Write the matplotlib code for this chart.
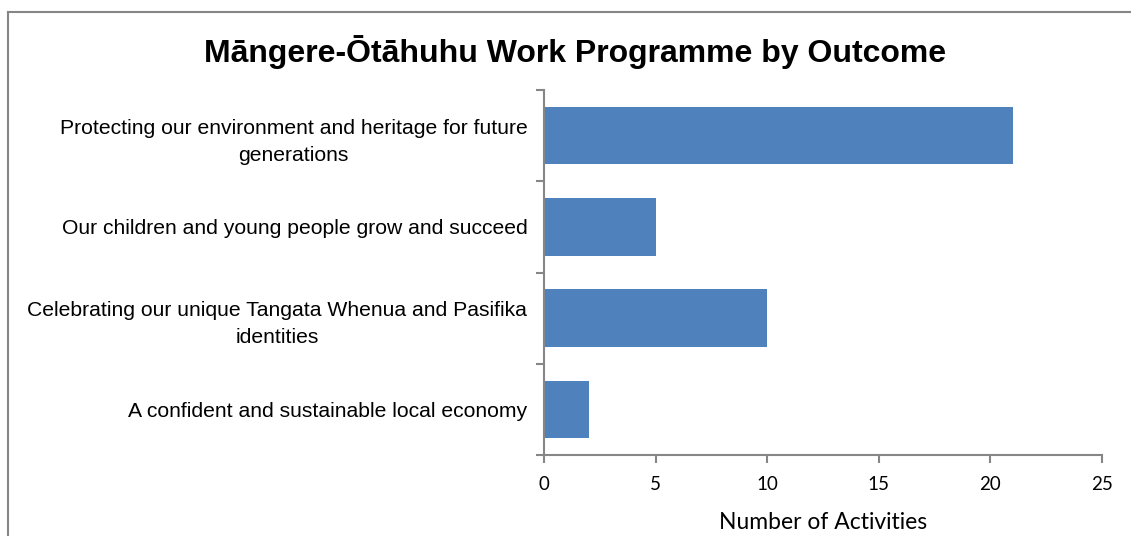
import matplotlib
matplotlib.use("Agg")
import matplotlib.pyplot as plt
from matplotlib.ticker import MultipleLocator, FixedLocator
from matplotlib.lines import Line2D

title = "Māngere-Ōtāhuhu Work Programme by Outcome"
categories = [
    "A confident and sustainable local economy",
    "Celebrating our unique Tangata Whenua and Pasifika\nidentities",
    "Our children and young people grow and succeed",
    "Protecting our environment and heritage for future\ngenerations",
]
values = [2, 10, 5, 21]
xlabel = "Number of Activities"

fig = plt.figure(figsize=(11.31, 5.36), dpi=100)
ax = fig.add_axes([544/1131, 1-455/536, (1102-544)/1131, (455-90)/536])

ypos = list(range(len(categories)))
ax.barh(ypos, values, height=0.63, color="#4F81BD", edgecolor="none")
ax.set_xlim(0, 25)
ax.set_ylim(-0.5, len(categories)-0.5)

gray = "#868686"
for s in ["top", "right"]:
    ax.spines[s].set_visible(False)
for s in ["left", "bottom"]:
    ax.spines[s].set_color(gray)
    ax.spines[s].set_linewidth(1.5)

ax.xaxis.set_major_locator(MultipleLocator(5))
ax.tick_params(axis="x", direction="out", length=6, width=1.5, color=gray,
               labelsize=13.5, pad=9)
for lab in ax.get_xticklabels():
    lab.set_family("Lato")

ax.set_yticks(ypos)
ax.set_yticklabels(categories, fontsize=15.2, family="Liberation Sans",
                   multialignment="center", linespacing=1.55)
ax.tick_params(axis="y", which="major", length=0, pad=12)
ax.yaxis.set_minor_locator(FixedLocator([i - 0.5 for i in range(len(categories)+1)]))
ax.tick_params(axis="y", which="minor", direction="out", length=6, width=1.5, color=gray)

ax.set_xlabel(xlabel, fontsize=16.5, family="Lato")
ax.xaxis.set_label_coords((823-544)/(1102-544), -0.155)

fig.text(575/1131, 1-52/536, title, ha="center", va="center",
         fontsize=23, fontweight="bold", family="Liberation Sans")

fig.add_artist(Line2D([7.5/1131, 7.5/1131], [0, 1-11.5/536], transform=fig.transFigure,
                      color=gray, lw=1.5))
fig.add_artist(Line2D([7.5/1131, 1], [1-11.5/536, 1-11.5/536], transform=fig.transFigure,
                      color=gray, lw=1.5))

fig.savefig("out.png", dpi=100, facecolor="white")
